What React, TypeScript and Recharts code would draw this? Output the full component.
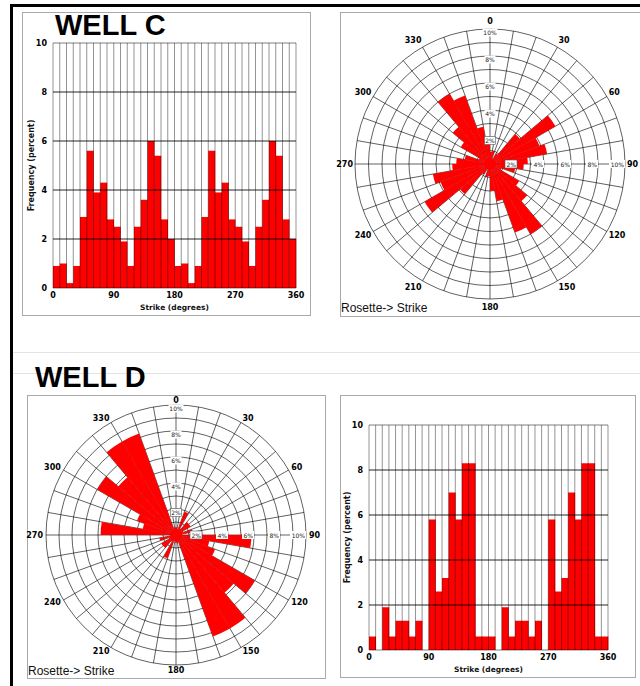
import {
  Bar,
  BarChart,
  PolarAngleAxis,
  PolarGrid,
  PolarRadiusAxis,
  RadialBar,
  RadialBarChart,
  ReferenceLine,
  XAxis,
  YAxis,
} from "recharts";

// 10-degree strike bins (start of each bin, degrees)
const strikeBins = [
  0, 10, 20, 30, 40, 50, 60, 70, 80, 90, 100, 110, 120, 130, 140, 150, 160, 170,
  180, 190, 200, 210, 220, 230, 240, 250, 260, 270, 280, 290, 300, 310, 320, 330,
  340, 350,
];

// frequency (percent) per bin
const wellCFrequency = [
  0.9, 1.0, 0.2, 0.9, 2.9, 5.6, 3.9, 4.3, 2.8, 2.5, 1.9, 0.9, 2.5, 3.6, 6.0, 5.4, 2.8, 2.0,
  0.9, 1.0, 0.2, 0.9, 2.9, 5.6, 3.9, 4.3, 2.8, 2.5, 1.9, 0.9, 2.5, 3.6, 6.0, 5.4, 2.8, 2.0,
];
const wellDFrequency = [
  0.6, 0, 1.9, 0.6, 1.3, 1.3, 0.6, 1.3, 0, 5.8, 2.6, 3.2, 7.0, 5.8, 8.3, 8.3, 0.6, 0.6,
  0.6, 0, 1.9, 0.6, 1.3, 1.3, 0.6, 1.3, 0, 5.8, 2.6, 3.2, 7.0, 5.8, 8.3, 8.3, 0.6, 0.6,
];

const frequencyTicks = [0, 2, 4, 6, 8, 10];
const strikeTicks = [0, 90, 180, 270, 360];
const binEdges = [...strikeBins, 360];
const roseRings = [0, 1, 2, 3, 4, 5, 6, 7, 8, 9, 10];

const RED = "#ff0000";
const smallFont = "'DejaVu Sans', Verdana, sans-serif";
const titleFont = "'Liberation Sans', Arial, sans-serif";
const panelBorder = "1px solid #a9a9a9";

type Margin = { top: number; right: number; bottom: number; left: number };

function StrikeHistogram({
  values,
  left,
  top,
  width,
  height,
  margin,
  yAxisWidth,
  titleOffset,
}: {
  values: number[];
  left: number;
  top: number;
  width: number;
  height: number;
  margin: Margin;
  yAxisWidth: number;
  titleOffset: number;
}) {
  // bars sit on the bin centres of a numeric 0-360 axis
  const data = strikeBins.map((start, i) => ({ strike: start + 5, frequency: values[i] }));
  const w = width - 2;
  const h = height - 2;
  return (
    <div style={{ position: "absolute", left, top, width: w, height: h, border: panelBorder }}>
      <BarChart width={w} height={h} data={data} margin={margin} barCategoryGap={0} barGap={0}>
        <XAxis
          dataKey="strike"
          type="number"
          domain={[0, 360]}
          ticks={strikeTicks}
          height={27}
          tickLine={false}
          axisLine={false}
          tickSize={0}
          tickMargin={4}
          tick={{ fontSize: 8, fontWeight: "bold", fill: "#000", fontFamily: smallFont }}
          label={{
            value: "Strike (degrees)",
            position: "insideBottom",
            offset: 5,
            fontSize: 7.5,
            fontWeight: "bold",
            fill: "#111",
            fontFamily: smallFont,
          }}
        />
        <YAxis
          type="number"
          domain={[0, 10]}
          ticks={frequencyTicks}
          width={yAxisWidth}
          tickLine={false}
          axisLine={false}
          tickSize={0}
          tickMargin={6}
          tick={{ fontSize: 8, fontWeight: "bold", fill: "#000", fontFamily: smallFont }}
          label={{
            value: "Frequency (percent)",
            angle: -90,
            position: "insideLeft",
            offset: titleOffset,
            fontSize: 8,
            fontWeight: "bold",
            fill: "#111",
            fontFamily: smallFont,
            style: { textAnchor: "middle" },
          }}
        />
        <Bar dataKey="frequency" fill={RED} isAnimationActive={false} />
        {/* grid is drawn over the bars, as in the original plot */}
        {binEdges.map((edge) => (
          <ReferenceLine key={`x${edge}`} x={edge} stroke="#000" strokeOpacity={0.42} />
        ))}
        {frequencyTicks.map((f) => (
          <ReferenceLine
            key={`y${f}`}
            y={f}
            stroke="#000"
            strokeOpacity={f === 0 || f === 10 ? 0.5 : 0.85}
          />
        ))}
      </BarChart>
    </div>
  );
}

// compass labels every 30 degrees
function makeCompassTick(lift: number) {
  return function CompassTick(props: any) {
    const { x, y, payload, textAnchor } = props;
    const coord = Number(payload.coordinate);
    const compass = Math.round((((90 - coord) % 360) + 360) % 360);
    if (compass % 30 !== 0) return <g />;
    const dy = -Math.sin((coord * Math.PI) / 180) * lift;
    return (
      <text
        x={x}
        y={y + dy}
        textAnchor={textAnchor}
        dominantBaseline="central"
        fontSize={8}
        fontWeight="bold"
        fill="#000"
        fontFamily={smallFont}
      >
        {compass}
      </text>
    );
  };
}

function northTick(props: any) {
  const { x, y, payload } = props;
  const v = Number(payload.value);
  if (v === 0) return <circle cx={x} cy={y} r={6} fill={RED} />;
  if (v % 2 !== 0) return <g />;
  const bw = v === 10 ? 15 : 11;
  return (
    <g>
      <rect
        x={x - bw / 2}
        y={y - 0.5}
        width={bw}
        height={8}
        fill="#fff"
        stroke={v === 2 ? "#555" : "none"}
        strokeWidth={0.6}
      />
      <text
        x={x}
        y={y + 3.5}
        textAnchor="middle"
        dominantBaseline="central"
        fontSize={6}
        fill="#222"
        fontFamily={smallFont}
      >
        {`${v}%`}
      </text>
    </g>
  );
}

function eastTick(props: any) {
  const { x, y, payload } = props;
  const v = Number(payload.value);
  if (v === 0 || v % 2 !== 0) return <g />;
  const bw = v === 10 ? 15 : 11;
  return (
    <g>
      <rect
        x={x - bw - 1}
        y={y - 4}
        width={bw + 1}
        height={8}
        fill="#fff"
        stroke={v === 2 ? "#555" : "none"}
        strokeWidth={0.6}
      />
      <text
        x={x - 1}
        y={y}
        textAnchor="end"
        dominantBaseline="central"
        fontSize={6}
        fill="#222"
        fontFamily={smallFont}
      >
        {`${v}%`}
      </text>
    </g>
  );
}

const PAD = 14;

function StrikeRose({
  values,
  left,
  top,
  width,
  height,
  cx,
  cy,
  radius,
  labelGap,
  labelLift,
}: {
  values: number[];
  left: number;
  top: number;
  width: number;
  height: number;
  cx: number;
  cy: number;
  radius: number;
  labelGap: number;
  labelLift: number;
}) {
  const data = strikeBins.map((start, i) => ({ strike: start, frequency: values[i] }));
  const w = width - 2;
  const h = height - 2;
  return (
    <div style={{ position: "absolute", left, top, width: w, height: h, border: panelBorder }}>
      <div style={{ position: "absolute", left: -PAD, top: -PAD }}>
        {/* clockwise from north; the 80 / -280 span lines each 10-degree
            sector up with its own bin */}
        <RadialBarChart
          width={w + 2 * PAD}
          height={h + 2 * PAD}
          data={data}
          cx={cx + PAD}
          cy={cy + PAD}
          innerRadius={0}
          outerRadius={radius}
          startAngle={80}
          endAngle={-280}
          layout="centric"
          barCategoryGap={0}
          barGap={0}
          margin={{ top: 0, right: 0, bottom: 0, left: 0 }}
        >
          <RadialBar dataKey="frequency" fill={RED} isAnimationActive={false} />
          <PolarGrid gridType="circle" stroke="#000" strokeOpacity={0.62} />
          <PolarAngleAxis
            dataKey="strike"
            type="category"
            tickLine={false}
            axisLine={false}
            tickSize={labelGap}
            tick={makeCompassTick(labelLift)}
          />
          <PolarRadiusAxis
            type="number"
            domain={[0, 10]}
            ticks={roseRings}
            angle={90}
            axisLine={false}
            tickLine={false}
            allowDataOverflow
            tick={northTick}
          />
          <PolarRadiusAxis
            radiusAxisId="east"
            type="number"
            domain={[0, 10]}
            ticks={roseRings}
            angle={0}
            axisLine={false}
            tickLine={false}
            allowDataOverflow
            tick={eastTick}
          />
        </RadialBarChart>
      </div>
    </div>
  );
}

export default function App() {
  return (
    <div
      style={{
        position: "absolute",
        left: 0,
        top: 0,
        width: 640,
        height: 686,
        overflow: "hidden",
        background: "#fff",
      }}
    >
      <StrikeHistogram
        values={wellCFrequency}
        left={22}
        top={12}
        width={289}
        height={304}
        margin={{ top: 30, right: 14, bottom: 0, left: 0 }}
        yAxisWidth={30}
        titleOffset={8}
      />
      <StrikeRose
        values={wellCFrequency}
        left={340}
        top={12}
        width={312}
        height={305}
        cx={149}
        cy={151}
        radius={135}
        labelGap={2}
        labelLift={6}
      />
      <StrikeRose
        values={wellDFrequency}
        left={27}
        top={395}
        width={299}
        height={284}
        cx={148}
        cy={139}
        radius={130}
        labelGap={3}
        labelLift={2}
      />
      <StrikeHistogram
        values={wellDFrequency}
        left={340}
        top={395}
        width={296}
        height={283}
        margin={{ top: 29, right: 27, bottom: 0, left: 0 }}
        yAxisWidth={28}
        titleOffset={6}
      />

      <svg
        width={640}
        height={686}
        style={{ position: "absolute", left: 0, top: 0, pointerEvents: "none" }}
      >
        <line x1={11.5} y1={4} x2={11.5} y2={686} stroke="#000" strokeWidth={3} />
        <line x1={10} y1={5.5} x2={640} y2={5.5} stroke="#000" strokeWidth={3} />
        <line x1={13} y1={352.5} x2={640} y2={352.5} stroke="#e3e3e3" />
        <line x1={13} y1={373.5} x2={640} y2={373.5} stroke="#e3e3e3" />
        <text x={55} y={35} fontSize={29} fontWeight="bold" fill="#000" fontFamily={titleFont}>
          WELL C
        </text>
        <text x={35} y={387} fontSize={29} fontWeight="bold" fill="#000" fontFamily={titleFont}>
          WELL D
        </text>
        <text x={341} y={312} fontSize={12} fill="#111" fontFamily={titleFont}>
          {"Rosette-> Strike"}
        </text>
        <text x={28} y={675} fontSize={12} fill="#111" fontFamily={titleFont}>
          {"Rosette-> Strike"}
        </text>
      </svg>
    </div>
  );
}
